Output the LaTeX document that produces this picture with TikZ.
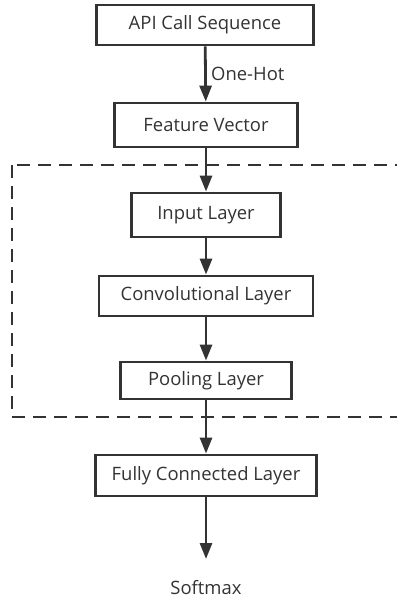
\documentclass[tikz,border=0pt]{standalone}
\usepackage{fontspec}
\setmainfont{Open Sans}
\usetikzlibrary{arrows.meta}
\definecolor{ink}{HTML}{333333}

\begin{document}
\begin{tikzpicture}[x=1bp, y=-1bp, line width=2.8bp, draw=ink, text=ink,
        font=\fontsize{18.5}{22}\selectfont,
        layer/.style={draw, rectangle, inner sep=0pt},
        flow/.style={-{Triangle[width=12bp, length=16bp]}}]
        \useasboundingbox (0,0) rectangle (396,600);
        % dashed frame round the CNN part
        \draw[dash pattern=on 13bp off 8bp] (12,165) rectangle (399,417);
        \node[layer, minimum width=217bp, minimum height=40bp] (api) at (205,25) {API Call Sequence};
        \node[layer, minimum width=183bp, minimum height=44bp] (feat) at (206,125) {Feature Vector};
        \node[layer, minimum width=149bp, minimum height=44bp] (inp) at (206,215) {Input Layer};
        \node[layer, minimum width=214bp, minimum height=40bp] (conv) at (206,296) {Convolutional Layer};
        \node[layer, minimum width=171bp, minimum height=37bp] (pool) at (206,380.5) {Pooling Layer};
        \node[layer, minimum width=221bp, minimum height=41bp] (fc) at (206,475.5) {Fully Connected Layer};
        \node (soft) at (206,588) {Softmax};
        \coordinate (out) at (206,559);
        \draw[flow] (api) -- node[right=1bp] {One-Hot} (feat);
        \draw[flow] (feat) -- (inp);
        \draw[flow] (inp) -- (conv);
        \draw[flow] (conv) -- (pool);
        \draw[flow] (pool) -- (fc);
        \draw[flow] (fc) -- (out);
    \end{tikzpicture}
\end{document}
